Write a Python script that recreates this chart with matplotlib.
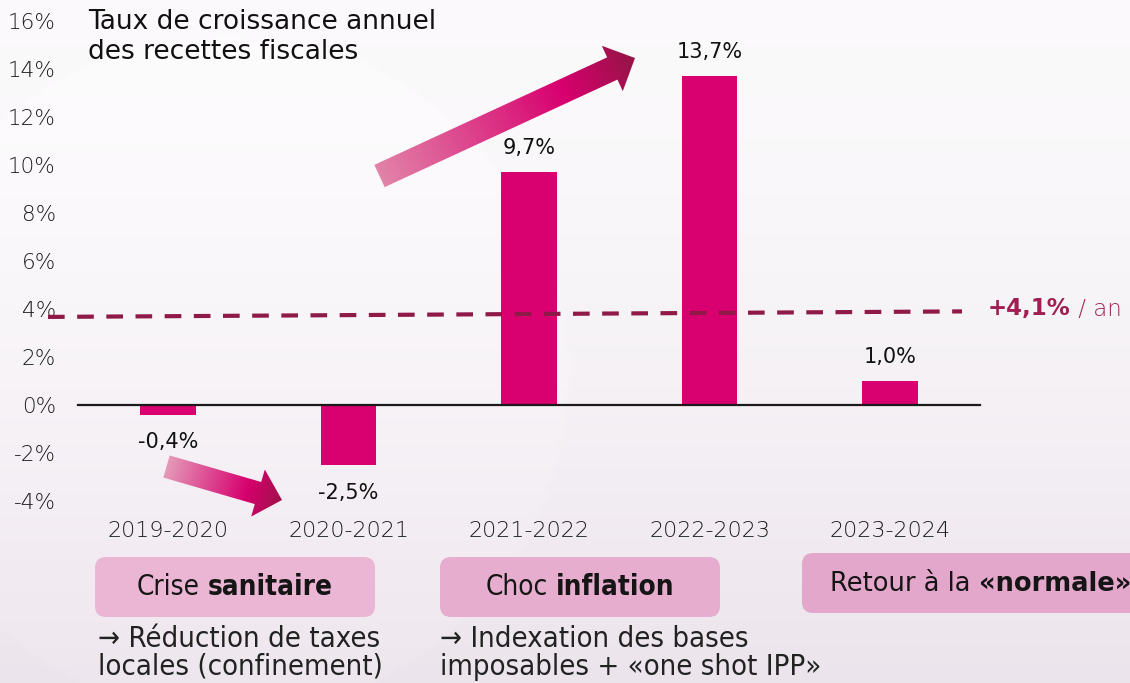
import numpy as np
import matplotlib.pyplot as plt
from matplotlib.patches import Polygon, FancyBboxPatch
from matplotlib.colors import LinearSegmentedColormap

# ---------------- data ----------------
categories = ['2019-2020', '2020-2021', '2021-2022', '2022-2023', '2023-2024']
growth = [-0.4, -2.5, 9.7, 13.7, 1.0]
value_labels = ['-0,4%', '-2,5%', '9,7%', '13,7%', '1,0%']
yticks = [-4, -2, 0, 2, 4, 6, 8, 10, 12, 14, 16]
ytick_labels = [f'{t}%' for t in yticks]
average_growth = 4.1
average_label_bold = '+4,1%'
average_label_rest = ' / an'
title = 'Taux de croissance annuel\ndes recettes fiscales'
phase_normal = ['Crise', 'Choc', 'Retour à la']
phase_bold = ['sanitaire', 'inflation', '«normale»']
notes = ['→ Réduction de taxes\nlocales (confinement)',
         '→ Indexation des bases\nimposables + «one shot IPP»',
         '']

# ---------------- style ----------------
FONT = ['DejaVu Sans']
plt.rcParams['font.family'] = FONT
BAR = '#d9006f'
DASH = '#8f1a47'
TXT = '#1c1c1c'

W, H = 1130, 683
fig = plt.figure(figsize=(W / 100, H / 100), dpi=100)

# background gradient
bg = fig.add_axes([0, 0, 1, 1], zorder=0)
yy, xx = np.mgrid[0:1:120j, 0:1:200j]
top = np.array([0.985, 0.980, 0.985])
bot = np.array([0.925, 0.895, 0.925])
t = (yy ** 1.6)[..., None]
img = top * (1 - t) + bot * t
d = np.sqrt(((xx - 0.2) * 1.65) ** 2 + (yy - 0.55) ** 2)
img = img + (d < 0.5)[..., None] * 0.008
img = np.clip(img, 0, 1)
bg.imshow(img, extent=(0, 1, 0, 1), aspect='auto', interpolation='bilinear', origin='upper')
bg.set_axis_off()

# main axes
px0, px1 = 60, 1130
x_of = lambda p: (p - 168) / 180.5
ax = fig.add_axes([px0 / W, (H - 513) / H, (px1 - px0) / W, 504 / H], zorder=2)
ax.patch.set_alpha(0)
ax.set_xlim(x_of(px0), x_of(px1))
ax.set_ylim(-4.5, 16.5)
for s in ax.spines.values():
    s.set_visible(False)

xs = np.arange(len(categories))
ax.bar(xs, growth, width=0.31, color=BAR, zorder=3)
ax.plot([-0.5, len(categories) - 0.5], [0, 0], color='#1a1a1a', lw=1.6, zorder=4)

for x, v, lab in zip(xs, growth, value_labels):
    yv = v + 1.0 if v >= 0 else v - 1.15
    ax.text(x, yv, lab, ha='center', va='center', fontsize=15, color='#111111')

ax.set_yticks(yticks)
ax.set_yticklabels(ytick_labels, fontsize=15.5, color=TXT, fontweight='light')
ax.set_xticks(xs)
ax.set_xticklabels(categories, fontsize=16, color=TXT, fontweight='light')
ax.tick_params(axis='both', length=0)
ax.tick_params(axis='y', pad=3)
ax.tick_params(axis='x', pad=6)

# average dashed line (drawn over bars)
ax.plot([x_of(48), x_of(962)], [3.67, 3.9], color=DASH, lw=3.0,
        dashes=(4, 3), clip_on=False, zorder=5)
t1 = ax.text(x_of(988), 4.0, average_label_bold, ha='left', va='center',
             fontsize=16.5, fontweight='bold', color='#a01e52')
ax.annotate(average_label_rest, xy=(1, 0.5), xycoords=t1, ha='left', va='center',
            fontsize=16.5, color='#9c2a57', fontweight='light')

# title
ax.text(x_of(88), 16.5 + 0.02, title, ha='left', va='top', fontsize=19,
        color='#111111', linespacing=1.2)

# overlay (pixel coordinates) for decorations
ov = fig.add_axes([0, 0, 1, 1], zorder=3)
ov.set_xlim(0, W)
ov.set_ylim(H, 0)
ov.set_axis_off()
ov.patch.set_alpha(0)


def gradient_arrow(tail, tip, shaft_w, head_w, head_len, colors):
    tail = np.array(tail, float)
    tip = np.array(tip, float)
    v = tip - tail
    L = np.hypot(*v)
    dvec = v / L
    n = np.array([-dvec[1], dvec[0]])
    neck = tip - dvec * head_len
    pts = [tail + n * shaft_w / 2, neck + n * shaft_w / 2, neck + n * head_w / 2, tip,
           neck - n * head_w / 2, neck - n * shaft_w / 2, tail - n * shaft_w / 2]
    poly = Polygon(pts, closed=True, facecolor='none', edgecolor='none')
    ov.add_patch(poly)
    pts = np.array(pts)
    x0, y0 = pts.min(axis=0) - 2
    x1, y1 = pts.max(axis=0) + 2
    gy, gx = np.mgrid[y0:y1:200j, x0:x1:200j]
    z = ((gx - tail[0]) * dvec[0] + (gy - tail[1]) * dvec[1]) / L
    cmap = LinearSegmentedColormap.from_list('g', colors)
    im = ov.imshow(z, extent=(x0, x1, y1, y0), origin='upper', cmap=cmap,
                   vmin=0, vmax=1, aspect='auto', interpolation='bilinear')
    im.set_clip_path(poly)


gradient_arrow((379.5, 176), (635, 58), 24.5, 50, 25,
               [(0, '#e283a8'), (0.72, '#d8006f'), (1, '#951546')])
gradient_arrow((166.5, 466.5), (282, 500), 23, 49, 25,
               [(0, '#e59ab9'), (0.7, '#d6006d'), (1, '#a0124a')])

# phase boxes
boxes = [(95, 557, 280, 60), (440, 557, 280, 60), (802, 553, 360, 60)]
box_colors = ['#ebb3d3', '#e6aacd', '#e3a4c9']
for (bx, by, bw, bh), bc in zip(boxes, box_colors):
    ov.add_patch(FancyBboxPatch((bx, by), bw, bh,
                                boxstyle='round,pad=0,rounding_size=11',
                                facecolor=bc, edgecolor='none', alpha=0.95))

fig.canvas.draw()
r = fig.canvas.get_renderer()


def mixed_text(cx, cy, parts, fontsize, stretch, ha='center'):
    objs = []
    widths = []
    for s, wgt in parts:
        o = ov.text(0, cy, s, fontsize=fontsize, fontweight=wgt, ha='left',
                    va='center', color='#151515', fontstretch=stretch)
        objs.append(o)
        widths.append(o.get_window_extent(r).width)
    a1 = ov.text(0, 0, 'a a', fontsize=fontsize, fontstretch=stretch)
    a2 = ov.text(0, 0, 'aa', fontsize=fontsize, fontstretch=stretch)
    sp = a1.get_window_extent(r).width - a2.get_window_extent(r).width
    a1.remove()
    a2.remove()
    total = sum(widths) + sp * (len(parts) - 1)
    x = cx - total / 2 if ha == 'center' else cx
    for o, w in zip(objs, widths):
        o.set_x(x)
        x += w + sp


centers = [(235, 587), (580, 587), (830, 584)]
for (cx, cy), a, b in zip(centers, phase_normal, phase_bold):
    if cx == 830:
        mixed_text(cx, cy, [(a, 'normal'), (b, 'bold')], 18.5, 'normal', ha='left')
    else:
        mixed_text(cx, cy, [(a, 'normal'), (b, 'bold')], 20, 'condensed')

note_x = [98, 440, 0]
for nx, nt in zip(note_x, notes):
    if nt:
        ov.text(nx, 653, nt, ha='left', va='center', fontsize=21,
                color='#222222', linespacing=1.0, fontstretch='condensed')

fig.savefig('out.png', dpi=100)
